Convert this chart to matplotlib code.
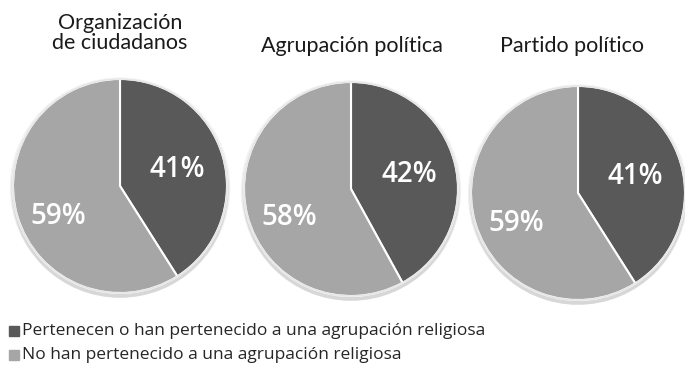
import matplotlib.pyplot as plt
from matplotlib.patches import Circle, Rectangle
import numpy as np

titles = ["Organización\nde ciudadanos", "Agrupación política", "Partido político"]
pertenecen = [41, 42, 41]
no_pertenecen = [59, 58, 59]
legend_labels = ["Pertenecen o han pertenecido a una agrupación religiosa",
                 "No han pertenecido a una agrupación religiosa"]
colors = ["#595959", "#a6a6a6"]

W, H = 685, 373
fig = plt.figure(figsize=(W / 100, H / 100), dpi=100)
fig.patch.set_facecolor("white")

# pie centres and radius in pixels
centers = [(120, 186), (351, 189), (578, 193)]
radius = 107
title_x = [120, 352, 572]
title_y = [33, 46, 46]

for i, (cx, cy) in enumerate(centers):
    ax = fig.add_axes([(cx - radius * 1.1) / W, 1 - (cy + radius * 1.1) / H,
                       2.2 * radius / W, 2.2 * radius / H])
    vals = [pertenecen[i], no_pertenecen[i]]
    wedges, _ = ax.pie(vals, colors=colors, startangle=90, counterclock=False,
                       radius=1.0, center=(0, 0),
                       wedgeprops=dict(edgecolor="white", linewidth=1.5))
    ax.set_xlim(-1.1, 1.1)
    ax.set_ylim(-1.1, 1.1)
    ax.set_aspect("equal")
    ax.axis("off")
    for w in wedges:
        w.set_zorder(2)
    # soft shadow under the pie
    for k, a in enumerate([0.05, 0.05, 0.06]):
        ax.add_patch(Circle((0.0, -0.015 - 0.01 * k), 1.0 + 0.01 * (3 - k),
                            color="#000000", alpha=a, lw=0, zorder=0))
    ax.add_patch(Circle((0, 0), 1.0, fill=False, ec="#e6e6e6", lw=1.2, zorder=3))
    # value labels
    mids = []
    start = 90.0
    for v in vals:
        mids.append(start - v * 3.6 / 2)
        start -= v * 3.6
    dists = [0.56, 0.6]
    for v, m, d in zip(vals, mids, dists):
        ang = np.deg2rad(m)
        ax.text(d * np.cos(ang), d * np.sin(ang) - (0.12 if v > 50 else 0),
                f"{v}%", color="white", fontsize=20, ha="center", va="center",
                family="Open Sans", fontweight="semibold", zorder=4)

    fig.text(title_x[i] / W, 1 - title_y[i] / H, titles[i], ha="center", va="center",
             fontsize=15.5, family="Lato", color="#1a1a1a", linespacing=1.0)

# legend
for j, (lab, col) in enumerate(zip(legend_labels, colors)):
    y = 331 + j * 24
    fig.patches.append(Rectangle((9 / W, 1 - (y + 5) / H), 10 / W, 10 / H,
                                 transform=fig.transFigure, color=col, figure=fig))
    fig.text(22 / W, 1 - y / H, lab, ha="left", va="center", fontsize=12.5,
             family="Open Sans", color="#262626")

fig.savefig("out.png", dpi=100)
